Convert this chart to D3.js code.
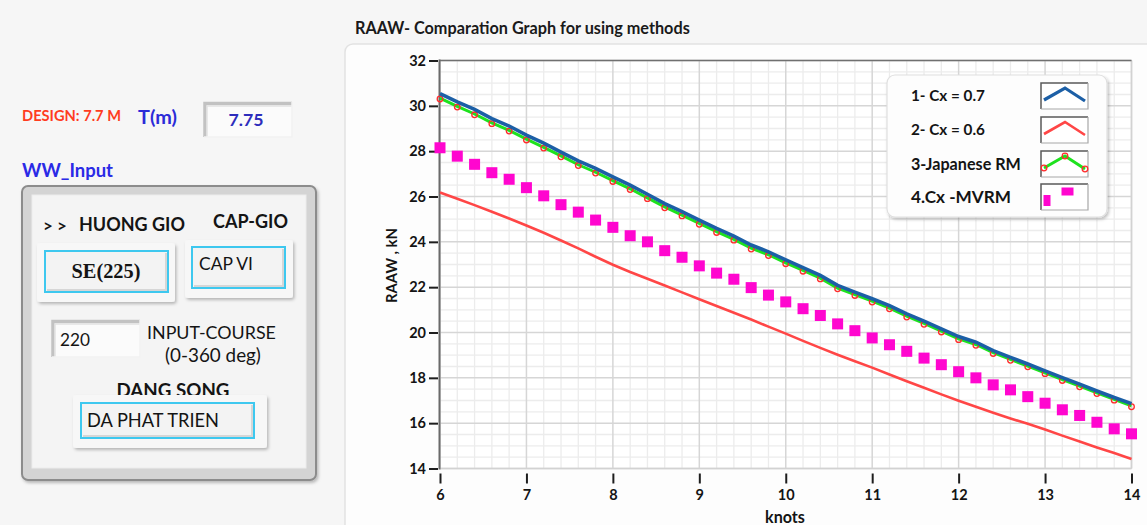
<!DOCTYPE html>
<html><head><meta charset="utf-8">
<script src="https://cdn.jsdelivr.net/npm/d3@7"></script>
<style>
html,body{margin:0;padding:0;background:#f6f6f6;overflow:hidden}
svg{display:block}
text{font-family:Lato,"Open Sans",sans-serif}
</style></head><body>
<svg id="c" width="1147" height="525"></svg>
<script>
// ---------------- DATA ----------------
const knots = [6, 6.2, 6.4, 6.6, 6.8, 7, 7.2, 7.4, 7.6, 7.8, 8, 8.2, 8.4, 8.6, 8.8, 9, 9.2, 9.4, 9.6, 9.8,
  10, 10.2, 10.4, 10.6, 10.8, 11, 11.2, 11.4, 11.6, 11.8, 12, 12.2, 12.4, 12.6, 12.8, 13, 13.2, 13.4, 13.6, 13.8, 14];
const seriesNames = ["1- Cx = 0.7", "2- Cx = 0.6", "3-Japanese RM", "4.Cx -MVRM"];
const cx07 = [30.54, 30.17, 29.84, 29.44, 29.11, 28.71, 28.35, 27.96, 27.57, 27.24, 26.87, 26.50, 26.10, 25.69, 25.33,
  24.96, 24.59, 24.25, 23.86, 23.56, 23.20, 22.86, 22.52, 22.08, 21.78, 21.49, 21.19, 20.82, 20.50, 20.16,
  19.82, 19.57, 19.20, 18.90, 18.61, 18.31, 18.01, 17.72, 17.42, 17.13, 16.86];
const cx06 = [26.18, 25.90, 25.62, 25.33, 25.03, 24.72, 24.40, 24.06, 23.71, 23.34, 22.99, 22.67, 22.37, 22.07, 21.77,
  21.47, 21.17, 20.87, 20.57, 20.26, 19.95, 19.63, 19.32, 19.02, 18.73, 18.45, 18.15, 17.85, 17.56, 17.27,
  16.99, 16.72, 16.46, 16.21, 15.97, 15.72, 15.45, 15.19, 14.93, 14.68, 14.42];
const japaneseRM = [30.34, 29.98, 29.64, 29.25, 28.92, 28.53, 28.17, 27.79, 27.40, 27.07, 26.70, 26.34, 25.94, 25.54, 25.18,
  24.81, 24.45, 24.11, 23.72, 23.43, 23.07, 22.74, 22.40, 21.96, 21.67, 21.38, 21.08, 20.72, 20.40, 20.06,
  19.72, 19.47, 19.11, 18.81, 18.52, 18.22, 17.92, 17.64, 17.34, 17.05, 16.76];
const mvrm = [28.15, 27.78, 27.42, 27.05, 26.76, 26.39, 26.03, 25.64, 25.31, 24.96, 24.64, 24.27, 24.00, 23.61, 23.32,
  22.94, 22.62, 22.35, 21.98, 21.65, 21.35, 21.05, 20.75, 20.38, 20.08, 19.76, 19.46, 19.17, 18.87, 18.58,
  18.27, 18.00, 17.69, 17.47, 17.17, 16.88, 16.59, 16.34, 16.04, 15.75, 15.53];
const xTicks = [6, 7, 8, 9, 10, 11, 12, 13, 14];
const yTicks = [14, 16, 18, 20, 22, 24, 26, 28, 30, 32];

// ---------------- HELPERS ----------------
const svg = d3.select("#c");
const defs = svg.append("defs");
const f = defs.append("filter").attr("id", "sh").attr("x", "-10%").attr("y", "-10%").attr("width", "130%").attr("height", "130%");
f.append("feDropShadow").attr("dx", 1.5).attr("dy", 2).attr("stdDeviation", 1.5).attr("flood-color", "#000").attr("flood-opacity", 0.25);

function label(parent, txt, x, cy, w, o = {}) {
  const fs = o.fs || 14;
  const t = parent.append("text").text(txt)
    .attr("x", x).attr("y", cy)
    .attr("font-size", fs)
    .attr("font-weight", o.weight || 700)
    .attr("fill", o.color || "#141414")
    .attr("text-anchor", o.anchor || "start");
  if (o.family) t.style("font-family", o.family);
  let nfs = fs;
  if (o.squeeze) {
    t.attr("textLength", w).attr("lengthAdjust", "spacingAndGlyphs");
  } else {
    const len = t.node().getComputedTextLength();
    if (w && len > 0) { nfs = fs * w / len; t.attr("font-size", nfs); }
  }
  t.attr("y", cy + nfs * 0.36);
  return t;
}
function bevelBox(g, x0, y0, x1, y1) {
  g.append("rect").attr("x", x0).attr("y", y0).attr("width", x1 - x0).attr("height", y1 - y0).attr("fill", "#fbfbfb");
  g.append("path").attr("d", `M${x0 + 1},${y1} L${x0 + 1},${y0 + 1.5} L${x1},${y0 + 1.5}`).attr("fill", "none").attr("stroke", "#c2c2c2").attr("stroke-width", 3.5);
  g.append("path").attr("d", `M${x0 + 3},${y1} L${x0 + 3},${y0 + 4} L${x1},${y0 + 4}`).attr("fill", "none").attr("stroke", "#e2e2e2").attr("stroke-width", 1.5);
  g.append("path").attr("d", `M${x1},${y0} L${x1},${y1} L${x0},${y1}`).attr("fill", "none").attr("stroke", "#f2f2f2").attr("stroke-width", 1.5);
}
function fieldPanel(g, ox0, oy0, ox1, oy1, ix0, iy0, ix1, iy1) {
  g.append("rect").attr("x", ox0).attr("y", oy0).attr("width", ox1 - ox0).attr("height", oy1 - oy0).attr("rx", 3)
    .attr("fill", "#f7f7f7").attr("filter", "url(#sh)");
  g.append("rect").attr("x", ix0).attr("y", iy0).attr("width", ix1 - ix0).attr("height", iy1 - iy0)
    .attr("fill", "#f3f3f3").attr("stroke", "#3ec8ef").attr("stroke-width", 2);
  g.append("path").attr("d", `M${ix0 + 2},${iy1 - 2} L${ix1 - 2},${iy1 - 2} L${ix1 - 2},${iy0 + 2}`)
    .attr("fill", "none").attr("stroke", "#d6d6d6").attr("stroke-width", 2);
}

// ---------------- LEFT PANEL ----------------
const L = svg.append("g");
label(L, "DESIGN: 7.7 M", 22, 116, 99, {color: "#ff3c1e", weight: 700, fs: 14.5, squeeze: true});
label(L, "T(m)", 138, 116.5, 39, {color: "#2b2bd8"});
bevelBox(L, 204, 102, 292, 137);
label(L, "7.75", 246, 120, 35, {color: "#2d2dbc", anchor: "middle"});
label(L, "WW_Input", 22, 170, 91, {color: "#2a2ae6"});

L.append("rect").attr("x", 22).attr("y", 186).attr("width", 294).attr("height", 294).attr("rx", 6)
  .attr("fill", "#d4d4d4").attr("stroke", "#8c8c8c").attr("stroke-width", 2).attr("filter", "url(#sh)");
L.append("rect").attr("x", 32).attr("y", 195).attr("width", 274).attr("height", 273)
  .attr("fill", "#f4f4f4").attr("stroke", "#ececec").attr("stroke-width", 1);

label(L, "> >", 43, 226, 24);
label(L, "HUONG GIO", 79, 225, 106);
label(L, "CAP-GIO", 213, 222, 75);
fieldPanel(L, 37, 243, 175, 302, 45, 251, 168, 292);
label(L, "SE(225)", 106, 271, 69, {family: "'Liberation Serif', serif", anchor: "middle"});
fieldPanel(L, 185, 240, 293, 298, 192, 247, 285, 288);
label(L, "CAP VI", 199, 264, 54, {weight: 400});
bevelBox(L, 52, 320, 140, 357);
label(L, "220", 60, 340, 30, {weight: 400});
label(L, "INPUT-COURSE", 147, 333, 129, {weight: 400});
label(L, "(0-360 deg)", 165, 355, 96, {weight: 400});
label(L, "DANG SONG", 173, 390, 113, {anchor: "middle"});
fieldPanel(L, 73, 395, 267, 448, 81, 403, 254, 438);
label(L, "DA PHAT TRIEN", 87, 420, 132, {weight: 400});

// ---------------- CHART PANEL ----------------
svg.append("rect").attr("x", 345).attr("y", 44).attr("width", 830).attr("height", 520).attr("rx", 8)
  .attr("fill", "#fdfdfd").attr("stroke", "#e2e2e2").attr("stroke-width", 1.5);
label(svg, "RAAW- Comparation Graph for using methods", 355, 28, 335, {color: "#1a1a1a"});

const x = d3.scaleLinear().domain([6, 14]).range([440, 1131.5]);
const y = d3.scaleLinear().domain([14, 32]).range([468.5, 60.5]);

const P = svg.append("g");
P.append("rect").attr("x", x(6)).attr("y", y(32)).attr("width", x(14) - x(6)).attr("height", y(14) - y(32)).attr("fill", "#ffffff");

// grid
const minorX = d3.range(6, 14.001, 0.2).filter(v => Math.abs(v - Math.round(v)) > 0.01);
const minorY = d3.range(14, 32.001, 0.5).filter(v => Math.abs(v / 2 - Math.round(v / 2)) > 0.01);
P.selectAll(".mgx").data(minorX).join("line").attr("x1", d => x(d)).attr("x2", d => x(d))
  .attr("y1", y(32)).attr("y2", y(14)).attr("stroke", "#ececec").attr("stroke-width", 1.3);
P.selectAll(".mgy").data(minorY).join("line").attr("y1", d => y(d)).attr("y2", d => y(d))
  .attr("x1", x(6)).attr("x2", x(14)).attr("stroke", "#ececec").attr("stroke-width", 1.3);
P.selectAll(".Mgx").data(xTicks).join("line").attr("x1", d => x(d)).attr("x2", d => x(d))
  .attr("y1", y(32)).attr("y2", y(14)).attr("stroke", "#d6d6d6").attr("stroke-width", 1.5);
P.selectAll(".Mgy").data(yTicks).join("line").attr("y1", d => y(d)).attr("y2", d => y(d))
  .attr("x1", x(6)).attr("x2", x(14)).attr("stroke", "#d6d6d6").attr("stroke-width", 1.5);

// frame
P.append("line").attr("x1", x(14)).attr("x2", x(14)).attr("y1", y(32)).attr("y2", y(14)).attr("stroke", "#d2d2d2").attr("stroke-width", 1.5);
P.append("line").attr("x1", x(6)).attr("x2", x(14)).attr("y1", y(14)).attr("y2", y(14)).attr("stroke", "#d2d2d2").attr("stroke-width", 1.5);
P.append("line").attr("x1", x(6) - 1).attr("x2", x(14)).attr("y1", y(32)).attr("y2", y(32)).attr("stroke", "#707070").attr("stroke-width", 1.5);

// axes
const yAxis = P.append("g").attr("transform", `translate(${x(6) - 2},0)`)
  .call(d3.axisLeft(y).tickValues(yTicks).tickSize(9).tickPadding(3));
const xAxis = P.append("g").attr("transform", `translate(0,${y(14) + 5})`)
  .call(d3.axisBottom(x).tickValues(xTicks).tickSize(10).tickPadding(6));
[yAxis, xAxis].forEach(a => {
  a.select(".domain").remove();
  a.selectAll(".tick line").attr("stroke", "#1e1e1e").attr("stroke-width", 2);
  a.selectAll(".tick text").attr("font-size", 14.5).attr("font-weight", 700).attr("fill", "#141414")
    .style("font-family", "Lato, sans-serif");
});
P.append("line").attr("x1", x(6) - 0.5).attr("x2", x(6) - 0.5).attr("y1", y(32) - 1).attr("y2", y(14) + 1)
  .attr("stroke", "#6a6a6a").attr("stroke-width", 2);

label(svg, "knots", 785, 517, 40, {anchor: "middle"});
const yl = svg.append("g").attr("transform", "translate(392,265.5) rotate(-90)");
label(yl, "RAAW , kN", 0, 0, 75, {anchor: "middle"});

// series
const S = P.append("g");
const line = d3.line().x((d, i) => x(knots[i])).y(d => y(d));
S.append("path").datum(cx06).attr("d", line).attr("fill", "none").attr("stroke", "#ff4646").attr("stroke-width", 2.6);
const sq = 11;
S.selectAll(".sq").data(mvrm).join("rect")
  .attr("x", (d, i) => x(knots[i]) - sq / 2).attr("y", d => y(d) - sq / 2)
  .attr("width", sq).attr("height", sq).attr("fill", "#ff06cf");
S.append("path").datum(japaneseRM).attr("d", line).attr("fill", "none").attr("stroke", "#1ee21e").attr("stroke-width", 3);
S.selectAll(".mk").data(japaneseRM).join("circle")
  .attr("cx", (d, i) => x(knots[i])).attr("cy", d => y(d) + 0.8).attr("r", 2.8)
  .attr("fill", "none").attr("stroke", "#ff2c2c").attr("stroke-width", 1.3);
S.append("path").datum(cx07).attr("d", line).attr("fill", "none").attr("stroke", "#1c5fa6").attr("stroke-width", 3.6);

// legend
const G = svg.append("g");
G.append("rect").attr("x", 887).attr("y", 75).attr("width", 220).attr("height", 142).attr("rx", 8)
  .attr("fill", "#fdfdfd").attr("stroke", "#e0e0e0").attr("stroke-width", 1.2).attr("filter", "url(#sh)");
const rowsY = [96, 130, 164, 197];
const legW = [74, 74, 110, 100];
seriesNames.forEach((n, i) => {
  label(G, n, 911, rowsY[i], legW[i]);
  const bx = 1041, by = rowsY[i] - 13;
  G.append("rect").attr("x", bx).attr("y", by).attr("width", 47).attr("height", 26).attr("fill", "#ffffff");
  G.append("path").attr("d", `M${bx},${by + 26} L${bx},${by} L${bx + 47},${by}`).attr("fill", "none").attr("stroke", "#5a5a5a").attr("stroke-width", 1.5);
  G.append("path").attr("d", `M${bx + 47},${by} L${bx + 47},${by + 26} L${bx},${by + 26}`).attr("fill", "none").attr("stroke", "#a8a8a8").attr("stroke-width", 1.2);
  const pts = [[bx + 3, by + 17], [bx + 24, by + 5], [bx + 44, by + 18]];
  const pl = d3.line()(pts);
  if (i === 0) G.append("path").attr("d", pl).attr("fill", "none").attr("stroke", "#1c5fa6").attr("stroke-width", 3.2);
  if (i === 1) G.append("path").attr("d", pl).attr("fill", "none").attr("stroke", "#ff4646").attr("stroke-width", 2.6);
  if (i === 2) {
    G.append("path").attr("d", pl).attr("fill", "none").attr("stroke", "#1ee21e").attr("stroke-width", 3);
    pts.forEach(p => G.append("circle").attr("cx", p[0]).attr("cy", p[1]).attr("r", 2.8)
      .attr("fill", "none").attr("stroke", "#ff2c2c").attr("stroke-width", 1.3));
  }
  if (i === 3) {
    G.append("rect").attr("x", bx + 2.5).attr("y", by + 11).attr("width", 7).attr("height", 11).attr("fill", "#ff06cf");
    G.append("rect").attr("x", bx + 20.5).attr("y", by + 3.5).attr("width", 12).attr("height", 8).attr("fill", "#ff06cf");
  }
});
</script>
</body></html>
